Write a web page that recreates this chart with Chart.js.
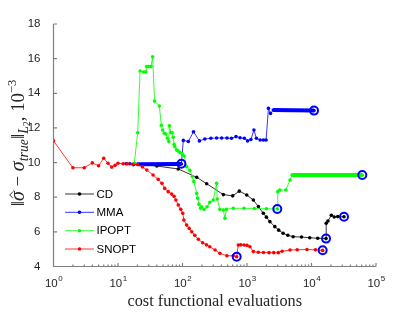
<!DOCTYPE html>
<html>
<head>
<meta charset="utf-8">
<script src="https://cdn.jsdelivr.net/npm/chart.js@4.4.0/dist/chart.umd.min.js"></script>
<style>
  html, body { margin: 0; padding: 0; background: #fff; }
</style>
</head>
<body>
<canvas id="chart" width="415" height="312"></canvas>
<script>
// cost functional evaluations (x) and error ||sigma_hat - sigma_true||, 1e-3 (y)
const cdEvals = [18, 40, 86, 166, 237, 430, 600, 760, 990, 1253, 1500, 1790, 2000, 2265, 2700, 3100, 3630, 4300, 5190, 7000, 9380, 12500, 16800, 16900, 18000, 20300, 22500, 25500, 31900];
const cdError = [9.92, 9.80, 9.63, 9.15, 8.78, 8.15, 8.08, 8.35, 8.13, 7.84, 7.46, 7.07, 6.85, 6.59, 6.30, 6.10, 5.92, 5.80, 5.72, 5.70, 5.66, 5.63, 5.61, 6.50, 6.63, 6.96, 6.86, 6.88, 6.87];

const mmaEvals = [13.3, 15.3, 17.3, 20, 96, 103, 123, 148, 183, 222, 275, 338, 405, 490, 575, 675, 780, 910, 1020, 1150, 1280, 1400, 1600, 1800, 1975, 2150, 2320, 2560, 10940];
const mmaError = [9.93, 9.93, 9.87, 9.90, 9.92, 11.28, 11.22, 11.78, 11.25, 11.36, 11.40, 11.42, 11.42, 11.42, 11.40, 11.50, 11.43, 11.40, 11.25, 11.33, 11.88, 11.40, 11.30, 11.30, 11.30, 13.13, 12.84, 13.03, 13.00];

const ipoptEvals = [17.9, 20.2, 22, 25, 27, 27.8, 30, 32.5, 34.4, 36.9, 43.7, 47, 49.2, 52.1, 55, 58.5, 61.4, 62.5, 66.3, 69, 71.8, 74, 76.1, 81, 86, 92, 99, 106, 116, 130, 142, 150, 166, 172, 180, 191, 197, 216, 240, 265, 300, 338, 345, 380, 430, 455, 480, 612, 900, 1300, 2000, 2950, 3000, 3220, 4000, 4645, 5000, 61300];
const ipoptError = [9.96, 11.72, 15.29, 15.23, 15.23, 15.54, 15.55, 15.55, 16.11, 13.55, 13.27, 12.15, 11.88, 11.69, 11.65, 11.40, 11.21, 12.12, 11.73, 11.72, 11.46, 11.05, 10.92, 10.73, 10.66, 10.58, 10.50, 10.38, 9.76, 9.55, 9.19, 8.90, 8.22, 7.95, 7.60, 7.36, 7.45, 7.30, 7.45, 7.70, 7.84, 8.80, 7.90, 7.30, 7.26, 6.78, 7.30, 7.36, 7.36, 7.35, 7.33, 7.32, 8.32, 8.42, 8.42, 8.99, 9.28, 9.28];

const snoptEvals = [1, 2, 3, 4, 5, 6, 7, 8, 9, 10, 12, 14, 17, 20, 24, 28, 35, 42, 48, 53, 60, 68, 74, 79, 86, 94, 101, 105, 116, 127, 139, 155, 176, 205, 235, 265, 320, 380, 487, 612, 692, 733, 800, 900, 1000, 1113, 1253, 1500, 1800, 2200, 2600, 3055, 3500, 4645, 6000, 8500, 11500, 14900];
const snoptError = [11.25, 9.70, 9.70, 9.98, 9.82, 10.25, 9.96, 9.74, 9.84, 9.96, 9.93, 9.93, 9.90, 9.90, 9.75, 9.57, 9.28, 9.03, 8.80, 8.51, 8.32, 8.18, 8.05, 7.84, 7.55, 7.30, 7.07, 6.68, 6.39, 6.20, 6.01, 5.80, 5.57, 5.37, 5.25, 5.14, 4.95, 4.76, 4.62, 4.62, 4.56, 5.24, 5.25, 5.24, 5.22, 5.14, 4.86, 4.82, 4.81, 4.80, 4.80, 4.80, 4.88, 4.95, 4.97, 4.98, 4.96, 4.93];

// marked points (blue circles)
const circleEvals = [96, 10940, 2950, 61300, 16800, 31900, 692, 14900];
const circleError = [9.93, 13.00, 7.32, 9.28, 5.61, 6.87, 4.56, 4.94];

const seriesNames = ['CD', 'MMA', 'IPOPT', 'SNOPT'];
const xTickValues = [1, 10, 100, 1000, 10000, 100000];
const xTickExponents = ['0', '1', '2', '3', '4', '5'];
const yTickValues = [4, 6, 8, 10, 12, 14, 16, 18];

const colors = ['#000000', '#0000ff', '#00ff00', '#ff0000'];
const sansFont = "'Liberation Sans', Arial, sans-serif";
const serifFont = "'Liberation Serif', 'Times New Roman', serif";

const toPoints = (xs, ys) => xs.map((x, i) => ({ x: x, y: ys[i] }));

// long flat stretches are drawn with dense markers in the original -> thick segment
function segWidth(ctx) {
  const data = ctx.chart.data.datasets[ctx.datasetIndex].data;
  const a = data[ctx.p0DataIndex], b = data[ctx.p1DataIndex];
  const span = Math.log10(b.x) - Math.log10(a.x);
  return (span > 0.5 && Math.abs(b.y - a.y) < 0.1) ? 4 : 0.8;
}

function lineSet(label, xs, ys, color, order) {
  return {
    label: label,
    data: toPoints(xs, ys),
    borderColor: color,
    backgroundColor: color,
    borderWidth: 0.8,
    pointRadius: 1.8,
    pointBorderWidth: 0,
    pointHoverRadius: 0,
    order: order,
    segment: { borderWidth: segWidth }
  };
}

// y label pieces: text, size, style, vertical shift (px at size 1x)
const yLabel = [
  { t: '\u2016', s: 15, fam: serifFont, dy: 0 },
  { t: '\u03c3', s: 16, it: true, fam: serifFont, dy: 0, hat: true },
  { t: ' \u2212 ', s: 15, fam: serifFont, dy: 0 },
  { t: '\u03c3', s: 16, it: true, fam: serifFont, dy: 0 },
  { t: 'true', s: 11, it: true, fam: serifFont, dy: 3 },
  { t: '\u2016', s: 15, fam: serifFont, dy: 0 },
  { t: 'L', s: 11, it: true, fam: serifFont, dy: 3 },
  { t: '2', s: 8, fam: serifFont, dy: 4.5 },
  { t: ', 10', s: 15, fam: serifFont, dy: 0 },
  { t: '\u22123', s: 10, fam: serifFont, dy: -6.5 }
];

function fontOf(p, f) {
  return (p.it ? 'italic ' : '') + (p.s * f).toFixed(2) + 'px ' + p.fam;
}

const decor = {
  id: 'decor',
  afterDraw(chart) {
    const ctx = chart.ctx;
    const a = chart.chartArea;
    const xs = chart.scales.x, ys = chart.scales.y;
    ctx.save();

    // axes (left + bottom only), inward ticks
    ctx.strokeStyle = '#7f7f7f';
    ctx.lineWidth = 1.2;
    ctx.beginPath();
    ctx.moveTo(a.left, a.top);
    ctx.lineTo(a.left, a.bottom);
    ctx.lineTo(a.right, a.bottom);
    yTickValues.forEach(v => {
      const y = ys.getPixelForValue(v);
      ctx.moveTo(a.left, y);
      ctx.lineTo(a.left + 3.5, y);
    });
    for (let d = 0; d < 5; d++) {
      for (let k = 1; k < 10; k++) {
        const x = xs.getPixelForValue(k * Math.pow(10, d));
        ctx.moveTo(x, a.bottom);
        ctx.lineTo(x, a.bottom - (k === 1 ? 3.5 : 2));
      }
    }
    const xe = xs.getPixelForValue(1e5);
    ctx.moveTo(xe, a.bottom);
    ctx.lineTo(xe, a.bottom - 3.5);
    ctx.stroke();

    // x tick labels 10^n
    ctx.fillStyle = '#262626';
    ctx.textBaseline = 'alphabetic';
    ctx.textAlign = 'left';
    xTickValues.forEach((v, i) => {
      const x = xs.getPixelForValue(v);
      ctx.font = '11.5px ' + sansFont;
      const w1 = ctx.measureText('10').width;
      ctx.font = '8px ' + sansFont;
      const w2 = ctx.measureText(xTickExponents[i]).width;
      const x0 = x - (w1 + w2) / 2;
      ctx.font = '11.5px ' + sansFont;
      ctx.fillText('10', x0, 287);
      ctx.font = '8px ' + sansFont;
      ctx.fillText(xTickExponents[i], x0 + w1 + 0.5, 281);
    });

    // x axis title
    ctx.font = '16.3px ' + serifFont;
    ctx.textAlign = 'center';
    ctx.fillText('cost functional evaluations', (a.left + a.right) / 2, 306);

    // y axis title (rotated math text), sized to span ~146px
    let total = 0;
    yLabel.forEach(p => { ctx.font = fontOf(p, 1); total += ctx.measureText(p.t).width; });
    const f = Math.min(1.25, 146 / total);
    const base = 2;
    ctx.translate(22, 143);
    ctx.rotate(-Math.PI / 2);
    ctx.textAlign = 'left';
    let w = 0;
    yLabel.forEach(p => { ctx.font = fontOf(p, f); p.w = ctx.measureText(p.t).width; w += p.w; });
    let cx = -w / 2;
    yLabel.forEach(p => {
      ctx.font = fontOf(p, f);
      ctx.fillText(p.t, cx, base + p.dy * f);
      if (p.hat) {
        ctx.beginPath();
        ctx.strokeStyle = '#262626';
        ctx.lineWidth = 0.9;
        ctx.moveTo(cx + p.w * 0.3, base - 9 * f);
        ctx.lineTo(cx + p.w * 0.6, base - 11.5 * f);
        ctx.lineTo(cx + p.w * 0.9, base - 9 * f);
        ctx.stroke();
      }
      cx += p.w;
    });
    ctx.restore();

    // legend
    ctx.save();
    const rows = [194, 212.3, 230.7, 249];
    seriesNames.forEach((name, i) => {
      const y = rows[i];
      ctx.strokeStyle = colors[i];
      ctx.lineWidth = 0.8;
      ctx.beginPath();
      ctx.moveTo(65, y);
      ctx.lineTo(94, y);
      ctx.stroke();
      ctx.fillStyle = colors[i];
      ctx.beginPath();
      ctx.arc(79.5, y, 1.8, 0, Math.PI * 2);
      ctx.fill();
      ctx.fillStyle = '#000';
      ctx.font = '11.5px ' + sansFont;
      ctx.textBaseline = 'middle';
      ctx.textAlign = 'left';
      ctx.fillText(name, 96.5, y + 0.5);
    });
    ctx.restore();
  }
};

new Chart(document.getElementById('chart'), {
  type: 'line',
  data: {
    datasets: [
      {
        label: 'marks',
        data: toPoints(circleEvals, circleError),
        showLine: false,
        pointRadius: 4,
        pointBorderWidth: 2,
        pointBorderColor: '#0000ff',
        pointBackgroundColor: 'rgba(0,0,0,0)',
        pointHoverRadius: 0,
        order: 0
      },
      lineSet('SNOPT', snoptEvals, snoptError, colors[3], 1),
      lineSet('IPOPT', ipoptEvals, ipoptError, colors[2], 2),
      lineSet('MMA', mmaEvals, mmaError, colors[1], 3),
      lineSet('CD', cdEvals, cdError, colors[0], 4)
    ]
  },
  options: {
    responsive: false,
    animation: false,
    devicePixelRatio: 1,
    layout: { padding: { top: 24, right: 39, bottom: 0, left: 0 } },
    plugins: {
      legend: { display: false },
      tooltip: { enabled: false }
    },
    scales: {
      x: {
        type: 'logarithmic',
        min: 1,
        max: 100000,
        grid: { display: false },
        border: { display: false },
        ticks: { display: false },
        afterFit: s => { s.height = 45.5; }
      },
      y: {
        type: 'linear',
        min: 4,
        max: 18,
        grid: { display: false },
        border: { display: false },
        ticks: {
          stepSize: 2,
          padding: 5,
          color: '#262626',
          font: { family: sansFont, size: 11.5 }
        },
        afterFit: s => { s.width = 53.5; }
      }
    }
  },
  plugins: [decor]
});
</script>
</body>
</html>
